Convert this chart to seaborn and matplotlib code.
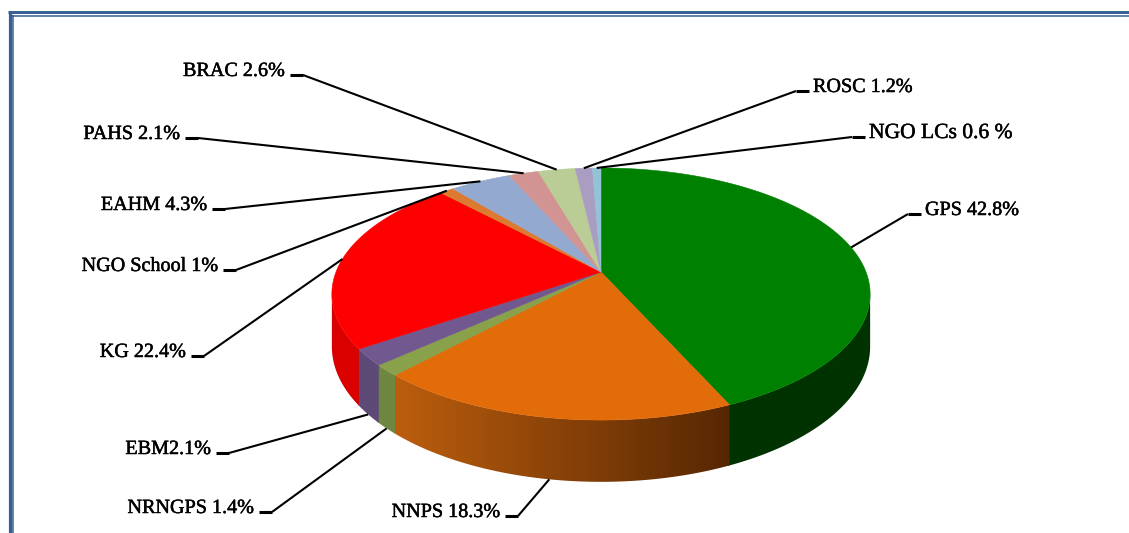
import numpy as np
import matplotlib
matplotlib.use("Agg")
import matplotlib.pyplot as plt
import matplotlib.patheffects as pe
from matplotlib.patches import Polygon
from matplotlib.colors import to_rgb
import seaborn as sns

# ==========================================
# DATA
# ==========================================
schools = ["GPS", "NNPS", "NRNGPS", "EBM", "KG", "NGO School",
           "EAHM", "PAHS", "BRAC", "ROSC", "NGO LCs"]
shares = [42.8, 18.3, 1.4, 2.1, 22.4, 1.0, 4.3, 2.1, 2.6, 1.2, 0.6]
label_text = ["GPS 42.8%", "NNPS 18.3%", "NRNGPS 1.4%", "EBM2.1%", "KG 22.4%",
              "NGO School 1%", "EAHM 4.3%", "PAHS 2.1%", "BRAC 2.6%",
              "ROSC 1.2%", "NGO LCs 0.6 %"]

top_colors = ["#008000", "#E26B0A", "#8AA14C", "#71598F", "#FF0000", "#DC7A30",
              "#93A9D0", "#D29393", "#BACD97", "#A99DC1", "#92C4D6"]
# wall colour at left end / right end of each slice's visible side
wall_colors = [("#003300", "#003300"), ("#BC5E0E", "#562703"),
               ("#6F8740", "#6F8740"), ("#5D4A77", "#5D4A77"),
               ("#DA0000", "#DA0000")] + [("#888888", "#888888")] * 6

# label text edge (x), baseline (y), side of pie
label_pos = {
    "GPS": (925, 214, "R"), "NNPS": (500, 516, "L"), "NRNGPS": (254, 512, "L"),
    "EBM": (211, 453, "L"), "KG": (186, 356, "L"), "NGO School": (218, 270, "L"),
    "EAHM": (207, 209, "L"), "PAHS": (180, 138, "L"), "BRAC": (285, 75, "L"),
    "ROSC": (813, 91, "R"), "NGO LCs": (869, 137, "R"),
}

# ==========================================
# PIE GEOMETRY (tilted disc with a little perspective, pixel space)
# ==========================================
CX, CY = 601, 272          # projected centre of the top face
A, B, K = 265, 122.2, 0.1746
DEPTH = 51


def proj(t_deg, drop=0.0):
    t = np.radians(t_deg)
    u, v = np.sin(t), np.cos(t)
    d = 1 + K * v
    return CX + A * u / d, CY - B * v / d + drop * DEPTH / d


sns.set_theme(style="white")
plt.rcParams['font.family'] = ['Liberation Serif', 'DejaVu Serif']

fig = plt.figure(figsize=(11.29, 5.33), dpi=100)
ax = fig.add_axes([0, 0, 1, 1])

vals = np.array(shares)
edges = np.concatenate([[0], np.cumsum(vals)]) / vals.sum() * 360
palette = sns.color_palette(top_colors)

# side walls (only the front part is visible), shaded left -> right
t_r, t_l = 90 + np.degrees(np.arcsin(K)), 270 - np.degrees(np.arcsin(K))
for i in range(len(vals)):
    lo, hi = max(edges[i], t_r), min(edges[i + 1] + 0.4, t_l)
    if hi <= lo:
        continue
    tt = np.linspace(lo, hi, 80)
    xt, yt = proj(tt)
    xb, yb = proj(tt[::-1], drop=1)
    xs = np.concatenate([xt, xb])
    ys = np.concatenate([yt, yb])
    wall = Polygon(np.column_stack([xs, ys]), closed=True, facecolor='none',
                   edgecolor='none')
    ax.add_patch(wall)
    c_left = np.array(to_rgb(wall_colors[i][0]))
    c_right = np.array(to_rgb(wall_colors[i][1]))
    x0, x1 = xs.min() - 1, xs.max() + 1
    f = np.linspace(0, 1, 200)[None, :, None]
    grad = c_left * (1 - f) + c_right * f
    im = ax.imshow(grad, extent=(x0, x1, ys.max() + 1, ys.min() - 1),
                   aspect='auto', interpolation='bilinear')
    im.set_clip_path(wall)

# top faces
for i in range(len(vals)):
    tt = np.linspace(edges[i], edges[i + 1], max(3, int(edges[i + 1] - edges[i]) * 2))
    xs, ys = proj(tt)
    pts = np.column_stack([np.concatenate([[CX], xs]), np.concatenate([[CY], ys])])
    ax.add_patch(Polygon(pts, closed=True, facecolor=palette[i],
                         edgecolor=palette[i], lw=0.4))

# leader lines + labels
for i, name in enumerate(schools):
    mid = (edges[i] + edges[i + 1]) / 2
    front = t_r < mid < t_l
    px, py = proj(mid, drop=1 if front else 0)
    tx, ty, side = label_pos[name]
    if side == "L":
        seg = (tx + 5, tx + 18)
        ha = 'right'
        inner = seg[1]
    else:
        seg = (tx - 17, tx - 4)
        ha = 'left'
        inner = seg[0]
    ax.plot([px, inner], [py, ty], color='black', lw=1.5, solid_capstyle='butt')
    ax.plot(seg, [ty, ty], color='black', lw=2.2, solid_capstyle='butt')
    fs = 15.5 if name == "NGO LCs" else 14.5
    ax.text(tx, ty + 1, label_text[i], ha=ha, va='baseline', fontsize=fs, color='black',
            path_effects=[pe.withStroke(linewidth=0.35, foreground='black')])

# double frame (top and left)
frame = "#365F94"
ax.plot([8, 1129], [12.3, 12.3], color=frame, lw=2.1, solid_capstyle='butt')
ax.plot([12, 1129], [16, 16], color=frame, lw=1.1, solid_capstyle='butt')
ax.plot([9.5, 9.5], [11, 533], color=frame, lw=2.3, solid_capstyle='butt')
ax.plot([13, 13], [15.3, 533], color=frame, lw=1.1, solid_capstyle='butt')

ax.set_xlim(0, 1129)
ax.set_ylim(533, 0)
ax.axis('off')

plt.savefig('out.png', dpi=100)
